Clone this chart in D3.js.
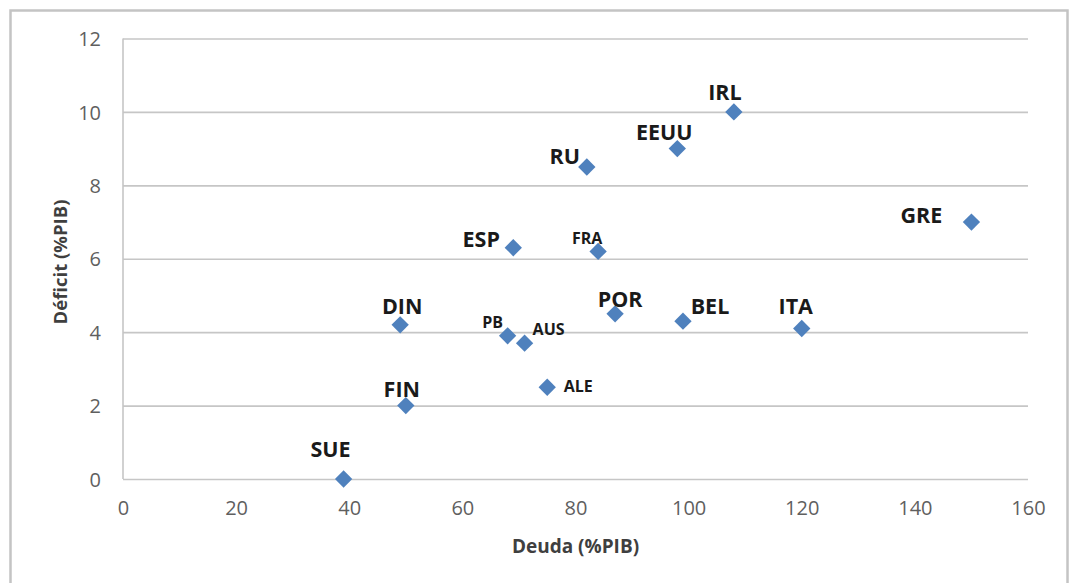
<!DOCTYPE html>
<html>
<head>
<meta charset="utf-8">
<script src="https://cdn.jsdelivr.net/npm/d3@7"></script>
<style>
  html, body { margin: 0; padding: 0; background: #fff; }
  svg { display: block; }
</style>
</head>
<body>
<svg id="chart" width="1071" height="583"></svg>
<script>
// ---- Data ----
const countries = ["SUE", "FIN", "DIN", "PB", "AUS", "ALE", "ESP", "FRA", "POR", "BEL", "ITA", "RU", "EEUU", "IRL", "GRE"];
const deuda     = [39,    50,    49,    68,   71,    75,    69,    84,    87,    99,    120,   82,   98,     108,   150];
const deficit   = [0,     2,     4.2,   3.9,  3.7,   2.5,   6.3,   6.2,   4.5,   4.3,   4.1,   8.5,  9,      10,    7];
const xTicks = [0, 20, 40, 60, 80, 100, 120, 140, 160];
const yTicks = [0, 2, 4, 6, 8, 10, 12];
const xTitle = "Deuda (%PIB)";
const yTitle = "Déficit (%PIB)";

// ---- Label placement (pixel offsets from marker, styling only) ----
const labelStyle = {
  SUE:  { dx: -13, dy: -22, small: false },
  FIN:  { dx: -4,  dy: -9,  small: false },
  DIN:  { dx: 2,   dy: -11, small: false },
  PB:   { dx: -15, dy: -8,  small: true },
  AUS:  { dx: 24,  dy: -8,  small: true },
  ALE:  { dx: 31,  dy: 5,   small: true },
  ESP:  { dx: -32, dy: -1,  small: false },
  FRA:  { dx: -11, dy: -7,  small: true },
  POR:  { dx: 5,   dy: -7,  small: false },
  BEL:  { dx: 27,  dy: -7,  small: false },
  ITA:  { dx: -6,  dy: -14, small: false },
  RU:   { dx: -22, dy: -3,  small: false },
  EEUU: { dx: -13, dy: -9,  small: false },
  IRL:  { dx: -9,  dy: -12, small: false },
  GRE:  { dx: -50, dy: 1,   small: false }
};

const svg = d3.select("#chart");
const font = "'Open Sans', 'DejaVu Sans', sans-serif";

// outer chart border
svg.append("rect")
  .attr("x", 10.5).attr("y", 10.5)
  .attr("width", 1057).attr("height", 620)
  .attr("fill", "#fff")
  .attr("stroke", "#c4c4c4").attr("stroke-width", 2.5);

const plot = { left: 123, right: 1028, top: 38.5, bottom: 479 };

const x = d3.scaleLinear().domain([0, 160]).range([plot.left, plot.right]);
const y = d3.scaleLinear().domain([0, 12]).range([plot.bottom, plot.top]);

// gridlines (horizontal)
const yAxis = d3.axisLeft(y).tickValues(yTicks).tickSize(-(plot.right - plot.left)).tickPadding(22);
const gy = svg.append("g").attr("transform", `translate(${plot.left},0)`).call(yAxis);
gy.select(".domain").remove();
gy.selectAll(".tick line").attr("stroke", "#c6c6c6").attr("stroke-width", 1.6);
gy.selectAll(".tick text")
  .attr("font-family", font).attr("font-size", 20).attr("fill", "#5f5f5f")
  .attr("dy", "0.36em");

// vertical axis line
svg.append("line")
  .attr("x1", plot.left).attr("x2", plot.left)
  .attr("y1", plot.top).attr("y2", plot.bottom)
  .attr("stroke", "#c6c6c6").attr("stroke-width", 1.6);

// x axis labels
const xAxis = d3.axisBottom(x).tickValues(xTicks).tickSize(0).tickPadding(22);
const gx = svg.append("g").attr("transform", `translate(0,${plot.bottom})`).call(xAxis);
gx.select(".domain").remove();
gx.selectAll(".tick text")
  .attr("font-family", font).attr("font-size", 20).attr("fill", "#5f5f5f");

// axis titles
svg.append("text")
  .attr("x", (plot.left + plot.right) / 2).attr("y", 553)
  .attr("text-anchor", "middle")
  .attr("font-family", font).attr("font-size", 19).attr("font-weight", 700)
  .attr("fill", "#3f3f3f")
  .text(xTitle);

svg.append("text")
  .attr("transform", `translate(67,262) rotate(-90)`)
  .attr("text-anchor", "middle")
  .attr("font-family", font).attr("font-size", 18.5).attr("font-weight", 700)
  .attr("fill", "#3f3f3f")
  .text(yTitle);

// markers
const points = countries.map((c, i) => ({ name: c, dx: deuda[i], df: deficit[i] }));
const sym = d3.symbol().type(d3.symbolSquare).size(150);

svg.append("g").selectAll("path")
  .data(points).join("path")
  .attr("d", sym)
  .attr("transform", d => `translate(${x(d.dx)},${y(d.df)}) rotate(45)`)
  .attr("fill", "#4f81bd");

// labels
svg.append("g").selectAll("text")
  .data(points).join("text")
  .attr("x", d => x(d.dx) + labelStyle[d.name].dx)
  .attr("y", d => y(d.df) + labelStyle[d.name].dy)
  .attr("text-anchor", "middle")
  .attr("font-family", font)
  .attr("font-weight", 700)
  .attr("font-size", d => labelStyle[d.name].small ? 16 : 21.5)
  .attr("fill", "#1a1a1a")
  .text(d => d.name);
</script>
</body>
</html>
